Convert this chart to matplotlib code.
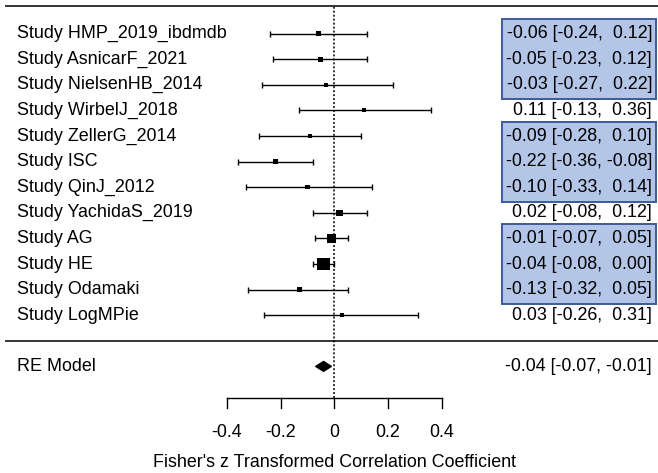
import numpy as np
import matplotlib.pyplot as plt
from matplotlib.patches import Rectangle, Polygon

plt.rcParams['font.family'] = ['Liberation Sans', 'DejaVu Sans']

studies = ['HMP_2019_ibdmdb', 'AsnicarF_2021', 'NielsenHB_2014', 'WirbelJ_2018',
           'ZellerG_2014', 'ISC', 'QinJ_2012', 'YachidaS_2019', 'AG', 'HE',
           'Odamaki', 'LogMPie']
est = [-0.06, -0.05, -0.03, 0.11, -0.09, -0.22, -0.10, 0.02, -0.01, -0.04, -0.13, 0.03]
ci_lo = [-0.24, -0.23, -0.27, -0.13, -0.28, -0.36, -0.33, -0.08, -0.07, -0.08, -0.32, -0.26]
ci_hi = [0.12, 0.12, 0.22, 0.36, 0.10, -0.08, 0.14, 0.12, 0.05, 0.00, 0.05, 0.31]

re_est, re_lo, re_hi = -0.04, -0.07, -0.01

# study index ranges drawn with a shaded box behind the CI text
highlight = [(0, 2), (4, 6), (8, 10)]

xticks = [-0.4, -0.2, 0, 0.2, 0.4]
xtick_labels = ['-0.4', '-0.2', '0', '0.2', '0.4']
xlabel = "Fisher's z Transformed Correlation Coefficient"

W, H, DPI = 658, 473, 100
X0, XSCALE = 334.3, 268.6      # pixel of x=0, pixels per unit
Y_TOP, ROW = 33.6, 25.6        # pixel of first study row, pixels per row
k = len(studies)


def px_x(p):
    return (p - X0) / XSCALE


def px_y(p):
    return k - (p - Y_TOP) / ROW


fig = plt.figure(figsize=(W / DPI, H / DPI), dpi=DPI)
ax = fig.add_axes([0, 0, 1, 1])
ax.set_xlim(px_x(0), px_x(W))
ax.set_ylim(px_y(H), px_y(0))
ax.axis('off')

ys = np.arange(k, 0, -1)
est = np.array(est)
lo = np.array(ci_lo)
hi = np.array(ci_hi)
fs = 12.9
line_kw = dict(color='black', lw=1.0)

y_top = px_y(6)
y_axis = -2.22

# header and separator lines
ax.plot([px_x(6), px_x(W)], [y_top, y_top], color='#333333', lw=1.4)
ax.plot([px_x(6), px_x(W)], [0, 0], color='#333333', lw=1.4)

# reference line at zero
ax.plot([0, 0], [y_axis, y_top], color='black', lw=1.1, linestyle=(0, (1.3, 1.3)))

# confidence intervals
ax.errorbar(est, ys, xerr=[est - lo, hi - est], fmt='none', ecolor='black',
            elinewidth=1.0, capsize=2.2, capthick=1.0)

# squares sized by precision
width = hi - lo
side_px = 2.4 + 0.82 / width
ax.scatter(est, ys, marker='s', s=(side_px * 72 / DPI) ** 2, color='black',
           linewidths=0, zorder=3)

# pooled estimate diamond
h = 0.2
ax.add_patch(Polygon([(re_lo, -1), (re_est, -1 + h), (re_hi, -1), (re_est, -1 - h)],
                     closed=True, facecolor='black', edgecolor='black', lw=0.8))

# shaded boxes behind CI text
for a, b in highlight:
    ax.add_patch(Rectangle((px_x(502), ys[b] - 0.56), px_x(656) - px_x(502),
                           ys[a] - ys[b] + 1.12, facecolor='#b4c6e7',
                           edgecolor='#3d5a99', lw=1.4, zorder=1))

# labels and CI text
x_left = px_x(17)
x_right = px_x(652)
for y, name, e, l, u in zip(ys, studies, est, lo, hi):
    ax.text(x_left, y, f'Study {name}', ha='left', va='center', fontsize=fs)
    ax.text(x_right, y, f'{e:.2f} [{l:5.2f}, {u:5.2f}]', ha='right', va='center',
            fontsize=fs, zorder=2)

ax.text(x_left, -1, 'RE Model', ha='left', va='center', fontsize=fs)
ax.text(x_right, -1, f'{re_est:.2f} [{re_lo:5.2f}, {re_hi:5.2f}]', ha='right',
        va='center', fontsize=fs)

# x axis
tick_len = 0.41
ax.plot([xticks[0], xticks[-1]], [y_axis, y_axis], **line_kw)
for t, lab in zip(xticks, xtick_labels):
    ax.plot([t, t], [y_axis, y_axis - tick_len], **line_kw)
    ax.text(t, -3.6, lab, ha='center', va='center', fontsize=fs)
ax.text(0, -4.76, xlabel, ha='center', va='center', fontsize=fs)

fig.savefig('out.png', dpi=DPI)
